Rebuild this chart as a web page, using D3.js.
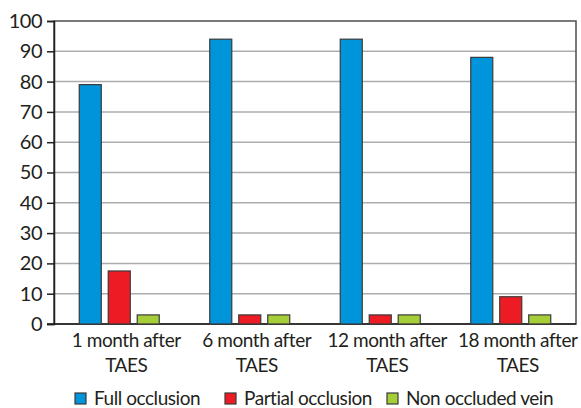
<!DOCTYPE html>
<html>
<head>
<meta charset="utf-8">
<script src="https://cdn.jsdelivr.net/npm/d3@7"></script>
<style>
  body { margin: 0; background: #fff; }
  text { font-family: Lato, "Open Sans", sans-serif; fill: #231f20; }
</style>
</head>
<body>
<div id="chart-area"></div>
<script>
var categories = [["1 month after", "TAES"], ["6 month after", "TAES"], ["12 month after", "TAES"], ["18 month after", "TAES"]];
var seriesNames = ["Full occlusion", "Partial occlusion", "Non occluded vein"];
var fullOcclusion = [79, 94, 94, 88];
var partialOcclusion = [17.5, 3, 3, 9];
var nonOccluded = [3, 3, 3, 3];
var yTicks = [0, 10, 20, 30, 40, 50, 60, 70, 80, 90, 100];
var colors = ["#0095da", "#ed1c24", "#a6ce39"];

var margin = { left: 54, right: 5, top: 21, bottom: 84 };
var width = 581 - margin.left - margin.right,
    height = 408 - margin.top - margin.bottom;

var svg = d3.select("#chart-area")
    .append("svg")
        .attr("width", 581)
        .attr("height", 408);

var g = svg.append("g")
    .attr("transform", "translate(" + margin.left + "," + margin.top + ")");

var series = [fullOcclusion, partialOcclusion, nonOccluded];
var data = [];
categories.forEach((c, i) => {
    series.forEach((s, j) => {
        data.push({ cat: i, series: j, value: s[i] });
    });
});

var x = d3.scaleBand()
    .domain(d3.range(categories.length))
    .range([0, width]);

// bars in a group: 22px wide, 29px apart
var x1 = d3.scaleBand()
    .domain(d3.range(series.length))
    .range([x.bandwidth() / 2 - 40, x.bandwidth() / 2 + 40])
    .paddingInner(0.24);

var y = d3.scaleLinear()
    .domain([0, 100])
    .range([height, 0]);

// gridlines
g.selectAll(".grid")
    .data(yTicks.filter(d => d > 0 && d < 100))
    .enter()
    .append("line")
        .attr("x1", 0)
        .attr("x2", width)
        .attr("y1", d => y(d))
        .attr("y2", d => y(d))
        .attr("stroke", "#adadad")
        .attr("stroke-width", 1.5);

// frame
g.append("rect")
    .attr("x", 0)
    .attr("y", 0)
    .attr("width", width)
    .attr("height", height)
    .attr("fill", "none")
    .attr("stroke", "#4d4d4d")
    .attr("stroke-width", 1.5);

var yAxisCall = d3.axisLeft(y)
    .tickValues(yTicks)
    .tickSize(7)
    .tickPadding(5);

var yAxis = g.append("g")
    .attr("class", "y axis")
    .call(yAxisCall);
yAxis.select(".domain").attr("stroke", "#231f20").attr("stroke-width", 1.5);
yAxis.selectAll(".tick line").attr("stroke", "#231f20").attr("stroke-width", 1.5);
yAxis.selectAll("text")
    .attr("font-size", "20px")
    .attr("font-family", "Lato, sans-serif")
    .attr("letter-spacing", "-0.5px")
    .attr("fill", "#231f20");

// x axis line
g.append("line")
    .attr("x1", -7)
    .attr("x2", width)
    .attr("y1", height)
    .attr("y2", height)
    .attr("stroke", "#231f20")
    .attr("stroke-width", 1.5);

// category labels
var labels = g.selectAll(".cat-label")
    .data(categories)
    .enter()
    .append("text")
        .attr("class", "cat-label")
        .attr("text-anchor", "middle")
        .attr("font-size", "19px")
        .attr("letter-spacing", "-0.45px")
        .attr("transform", (d, i) => "translate(" + (x(i) + x.bandwidth() / 2 + 7) + "," + (height + 23) + ")");
labels.selectAll("tspan")
    .data(d => d)
    .enter()
    .append("tspan")
        .attr("x", 0)
        .attr("dy", (d, i) => i === 0 ? 0 : 25)
        .text(d => d);

// bars
g.selectAll(".bar")
    .data(data)
    .enter()
    .append("rect")
        .attr("class", "bar")
        .attr("x", d => x(d.cat) + x1(d.series))
        .attr("y", d => y(d.value))
        .attr("width", x1.bandwidth())
        .attr("height", d => height - y(d.value))
        .attr("fill", d => colors[d.series])
        .attr("stroke", "#3a3a3a")
        .attr("stroke-width", 1.2);

// legend
var legendX = [75, 225, 387];
var legend = svg.selectAll(".legend")
    .data(seriesNames)
    .enter()
    .append("g")
        .attr("class", "legend")
        .attr("transform", (d, i) => "translate(" + legendX[i] + ",393)");
legend.append("rect")
    .attr("width", 11)
    .attr("height", 11)
    .attr("fill", (d, i) => colors[i])
    .attr("stroke", "#3a3a3a")
    .attr("stroke-width", 1.2);
legend.append("text")
    .attr("x", 19)
    .attr("y", 12)
    .attr("font-size", "19px")
    .attr("letter-spacing", "-0.45px")
    .text(d => d);
</script>
</body>
</html>
